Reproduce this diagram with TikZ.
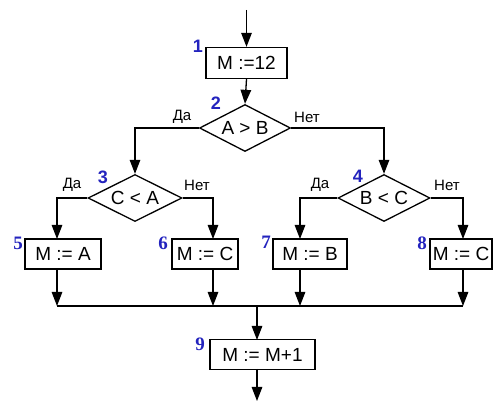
\documentclass[tikz,border=0pt]{standalone}
\usepackage{fontspec}
\setmainfont{Liberation Sans}
\newfontfamily\numserif{Liberation Serif}
\usetikzlibrary{arrows.meta,shapes.geometric}
\definecolor{numblue}{RGB}{35,35,190}
\tikzset{
  x=1pt,y=1pt,
  flow/.style={line width=1.3pt,-{Triangle[length=14pt,width=10.5pt]}},
  ln/.style={line width=1.3pt},
  procbox/.style={draw,line width=1.3pt,rectangle,inner sep=0pt,font=\fontsize{19}{21}\selectfont},
  cond/.style={draw,line width=1.3pt,diamond,inner sep=0pt,
    label={[font=\fontsize{19}{21}\selectfont,inner sep=0pt]center:#1}},
  numa/.style={text=numblue,font=\fontsize{18}{20}\selectfont\bfseries,inner sep=0pt},
  numb/.style={text=numblue,font=\fontsize{19}{21}\selectfont\numserif\bfseries,inner sep=0pt},
  yn/.style={font=\fontsize{15}{17}\selectfont,inner sep=0pt}
}
\begin{document}
\begin{tikzpicture}
\useasboundingbox (0,0) rectangle (501,-403);
% boxes
\node[procbox,minimum width=81pt,minimum height=31pt] (b1) at (246.5,-63) {M :=12};
\node[cond={A > B},minimum width=91pt,minimum height=47pt] (d2) at (245,-128) {};
\node[cond={C < A},minimum width=94pt,minimum height=47pt] (d3) at (135,-198) {};
\node[cond={B < C},minimum width=92pt,minimum height=47pt] (d4) at (384,-198) {};
\node[procbox,minimum width=76pt,minimum height=30pt] (b5) at (63,-254) {M := A};
\node[procbox,minimum width=66pt,minimum height=30pt] (b6) at (205,-254) {M := C};
\node[procbox,minimum width=74pt,minimum height=30pt] (b7) at (310,-254) {M := B};
\node[procbox,minimum width=62pt,minimum height=30pt] (b8) at (461,-254) {M := C};
\node[procbox,minimum width=105pt,minimum height=30pt] (b9) at (262.5,-354.5) {M := M+1};
% column coordinates
\coordinate (start) at (246.5,-10);
\coordinate (c5) at (57,-239);
\coordinate (c6) at (213,-239);
\coordinate (c7) at (300,-239);
\coordinate (c8) at (463,-239);
\coordinate (j5) at (57,-306);
\coordinate (j6) at (213,-306);
\coordinate (j7) at (300,-306);
\coordinate (j8) at (463,-306);
\coordinate (j9) at (257,-306);
\coordinate (t9) at (257,-340);
\coordinate (b9o) at (257,-369);
\coordinate (endp) at (257,-401);
% connectors
\draw[flow] (start) -- (b1.north);
\draw[flow] (b1.south) -- (d2.north);
\draw[flow] (d2.west) -| (d3.north);
\draw[flow] (d2.east) -| (d4.north);
\draw[flow] (d3.west) -| (c5);
\draw[flow] (d3.east) -| (c6);
\draw[flow] (d4.west) -| (c7);
\draw[flow] (d4.east) -| (c8);
\draw[flow] (c5 |- b5.south) -- (j5);
\draw[flow] (c6 |- b6.south) -- (j6);
\draw[flow] (c7 |- b7.south) -- (j7);
\draw[flow] (c8 |- b8.south) -- (j8);
\draw[ln] (j5) -- (j8);
\draw[flow] (j9) -- (t9);
\draw[flow] (b9o) -- (endp);
% numbers
\node[numa] at (198,-46) {1};
\node[numa] at (216,-103) {2};
\node[numa] at (103,-177) {3};
\node[numa] at (358,-176) {4};
\node[numb] at (18,-243) {5};
\node[numb] at (163,-243) {6};
\node[numb] at (266,-242) {7};
\node[numb] at (422,-243) {8};
\node[numb] at (200,-344) {9};
% yes/no labels
\node[yn] at (182,-117) {Да};
\node[yn] at (307,-117) {Нет};
\node[yn] at (72,-185) {Да};
\node[yn] at (197,-185) {Нет};
\node[yn] at (320,-185) {Да};
\node[yn] at (447,-185) {Нет};
\end{tikzpicture}
\end{document}
